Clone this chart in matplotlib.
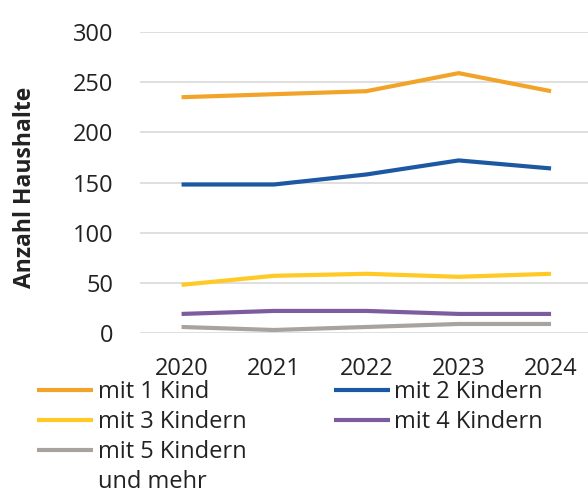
import matplotlib
matplotlib.use("Agg")
import matplotlib.pyplot as plt
from matplotlib.lines import Line2D

years = ["2020", "2021", "2022", "2023", "2024"]
series_names = ["mit 1 Kind", "mit 2 Kindern", "mit 3 Kindern", "mit 4 Kindern", "mit 5 Kindern"]
extra_label = "und mehr"
kind1 = [235, 238, 241, 259, 241]
kind2 = [148, 148, 158, 172, 164]
kind3 = [48, 57, 59, 56, 59]
kind4 = [19, 22, 22, 19, 19]
kind5 = [6, 3, 6, 9, 9]
yticks = [0, 50, 100, 150, 200, 250, 300]

colors = ["#F2A42A", "#1D58A3", "#FFC926", "#7C5C9E", "#A9A3A0"]
values = [kind1, kind2, kind3, kind4, kind5]

plt.rcParams['font.family'] = ['Open Sans', 'DejaVu Sans']

fig = plt.figure(figsize=(5.88, 4.97), dpi=100)
ax = fig.add_axes([140/588, 1 - 333/497, 1 - 140/588, (333 - 32)/497])

x = list(range(len(years)))
handles = []
for vals, c in zip(values, colors):
    h, = ax.plot(x, vals, color=c, lw=3.0, solid_capstyle='butt', clip_on=False, zorder=3)
    handles.append(h)

ax.set_xlim(-0.45, 4.4)
ax.set_ylim(0, 300)
ax.set_yticks(yticks)
ax.set_yticklabels([str(v) for v in yticks], fontsize=17, color="#222222")
ax.set_xticks(x)
ax.set_xticklabels(years, fontsize=17, color="#222222")
ax.tick_params(axis='both', length=0)
ax.tick_params(axis='y', pad=19)
ax.tick_params(axis='x', pad=17.5)
ax.grid(axis='y', color="#D9D9D9", lw=1.2)
ax.set_axisbelow(True)
for s in ax.spines.values():
    s.set_visible(False)

fig.text(25/588, 1 - 187/497, "Anzahl Haushalte", rotation=90, fontsize=16.5,
         fontweight='bold', ha='center', va='center', color="#222222")

blank = Line2D([], [], color='none', lw=0)
leg_handles = [handles[0], handles[2], handles[4], blank, handles[1], handles[3], blank, blank]
leg_labels = [series_names[0], series_names[2], series_names[4], extra_label,
              series_names[1], series_names[3], "", ""]
leg = fig.legend(leg_handles, leg_labels,
                 loc='upper left', bbox_to_anchor=(37/588, 1 - 380/497), ncol=2,
                 frameon=False, fontsize=17, handlelength=2.37, handletextpad=0.2,
                 columnspacing=3.7, borderpad=0, borderaxespad=0, labelspacing=0.25,
                 labelcolor="#222222")

fig.savefig("out.png", dpi=100, facecolor="white")
